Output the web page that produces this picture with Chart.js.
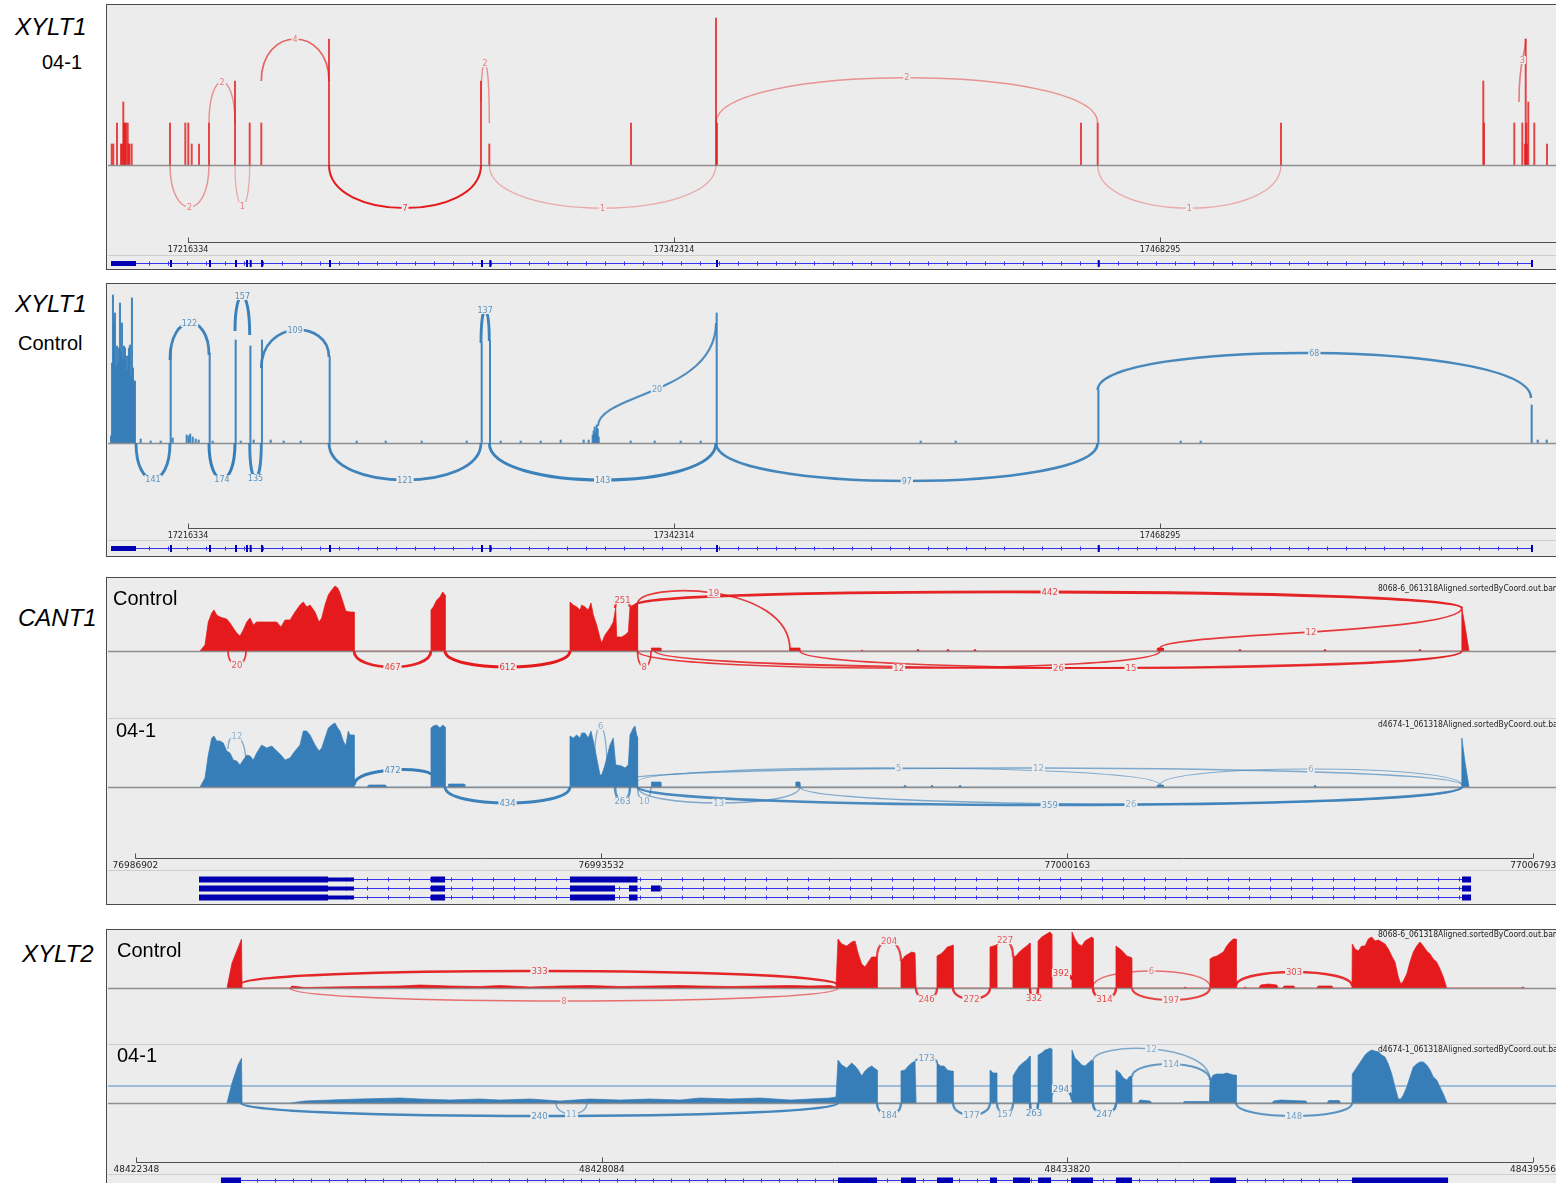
<!DOCTYPE html>
<html><head><meta charset="utf-8">
<script src="https://cdn.jsdelivr.net/npm/chart.js@4.4.1/dist/chart.umd.min.js"></script>
<style>
html,body{margin:0;padding:0;background:#fff;}
body{width:1556px;height:1183px;overflow:hidden;position:relative;font-family:"Liberation Sans",Arial,sans-serif;}
.panel{position:absolute;left:106px;width:1470px;background:rgb(236,236,236);border:1.5px solid #4a4a4a;box-sizing:border-box;}
canvas{position:absolute;left:108px;}
.sep{position:absolute;left:108px;width:1448px;height:1px;background:#cdcdd6;}
.lbl{position:absolute;line-height:1;white-space:nowrap;color:#000;z-index:5;}
.gene{font-style:italic;font-size:24px;}
.samp{font-size:20px;}
.bam{position:absolute;font-family:"DejaVu Sans Condensed","DejaVu Sans",sans-serif;font-size:8.5px;line-height:1;white-space:nowrap;color:#222;z-index:5;}
</style></head><body>

<div class="panel" style="top:4px;height:266px"></div>
<div class="panel" style="top:283px;height:274px"></div>
<div class="panel" style="top:577px;height:328px"></div>
<div class="panel" style="top:929px;height:270px"></div>

<div class="sep" style="top:255px"></div>
<div class="sep" style="top:540px"></div>
<div class="sep" style="top:718px"></div>
<div class="sep" style="top:870px"></div>
<div class="sep" style="top:1044px"></div>
<div class="sep" style="top:1174px"></div>

<canvas id="c1" width="1448" height="262" style="top:6px"></canvas>
<canvas id="c2" width="1448" height="270" style="top:285px"></canvas>
<canvas id="c3a" width="1448" height="139" style="top:579px"></canvas>
<canvas id="c3b" width="1448" height="185" style="top:718px"></canvas>
<canvas id="c4a" width="1448" height="113" style="top:931px"></canvas>
<canvas id="c4b" width="1448" height="141" style="top:1044px"></canvas>

<div class="lbl gene" style="left:15px;top:15px">XYLT1</div>
<div class="lbl samp" style="left:42px;top:52px">04-1</div>
<div class="lbl gene" style="left:15px;top:292px">XYLT1</div>
<div class="lbl samp" style="left:18px;top:333px">Control</div>
<div class="lbl gene" style="left:18px;top:606px">CANT1</div>
<div class="lbl samp" style="left:113px;top:588px">Control</div>
<div class="lbl samp" style="left:116px;top:720px">04-1</div>
<div class="lbl gene" style="left:22px;top:942px">XYLT2</div>
<div class="lbl samp" style="left:117px;top:940px">Control</div>
<div class="lbl samp" style="left:117px;top:1045px">04-1</div>
<div class="bam" style="left:1378px;top:584px">8068-6_061318Aligned.sortedByCoord.out.bam</div>
<div class="bam" style="left:1378px;top:720px">d4674-1_061318Aligned.sortedByCoord.out.bam</div>
<div class="bam" style="left:1378px;top:930px">8068-6_061318Aligned.sortedByCoord.out.bam</div>
<div class="bam" style="left:1378px;top:1045px">d4674-1_061318Aligned.sortedByCoord.out.bam</div>

<script>
// ===================== DATA =====================
// ---- XYLT1 ----
const xylt1Range = [17195598, 17570920];
const xylt1Ticks = [17216334, 17342314, 17468295];
const xylt1GeneSpan = [17196376, 17564699];
const xylt1GeneExons = [[17196376,17202856,'cds'],[17211668,17211800,'e'],[17221777,17221900,'e'],[17228516,17228640,'e'],[17231368,17231480,'e'],[17232327,17232450,'e'],[17235256,17235380,'e'],[17252881,17253000,'e'],[17292280,17292400,'e'],[17294431,17294560,'e'],[17353192,17353320,'e'],[17452128,17452250,'e'],[17564440,17564699,'e']];

// XYLT1, sample 04-1: [position, reads]
const xylt1S041Cov = [[17196557,1],[17196972,1],[17197931,2],[17198968,1],[17199227,1],[17199564,3],[17199745,2],[17200004,2],[17200264,2],[17200704,2],[17200912,1],[17201171,1],[17201741,1],[17211668,2],[17215634,2],[17216412,2],[17217293,1],[17219185,1],[17221777,2],[17228516,4],[17232327,2],[17235333,2],[17252881,6],[17292280,4],[17294431,1],[17331160,2],[17353192,7],[17353450,2],[17447800,2],[17452128,2],[17499640,2],[17552076,4],[17552257,2],[17560111,2],[17562185,2],[17562884,1],[17563066,6],[17563221,2],[17563403,1],[17563740,3],[17565295,2],[17568587,1]];
// junctions: [start, end, reads, startDepth, endDepth, arcPeak]
const xylt1S041Junc = [[17211668,17221777,2,0,0,-2.0],[17221777,17228516,2,2,2,3.95],[17228516,17232327,1,0,0,-1.95],[17235333,17252881,4,4,4,6.0],[17252881,17292280,7,0,0,-2.05],[17292280,17294431,2,3,2,4.85],[17294431,17353192,1,0,0,-2.05],[17353192,17452128,2,2,2,4.15],[17452128,17499640,1,0,0,-2.05],[17561329,17563066,3,3,6,5.0]];

// XYLT1, Control
const xylt1CtrlFirstExonPos = [17196557,17196816,17197075,17197334,17197593,17197852,17198111,17198370,17198629,17198888,17199147,17199406,17199665,17199924,17200183,17200442,17200701,17200960,17201219,17201478,17201737,17201996,17202255,17202514,17202773];
const xylt1CtrlFirstExonDepth = [7,80,148,120,130,77,97,80,95,140,91,120,83,97,95,87,73,87,95,98,67,145,75,62,62];
const xylt1CtrlCov = [[17203892,4],[17206484,2],[17209076,2],[17211668,95],[17212187,5],[17215816,8],[17216334,7],[17216723,9],[17217371,6],[17218148,4],[17218926,3],[17221777,90],[17222555,2],[17228516,103],[17229812,2],[17232327,97],[17233182,3],[17235333,103],[17237588,3],[17240958,2],[17245364,2],[17252881,86],[17259880,2],[17267396,2],[17276728,2],[17288392,2],[17292280,100],[17294431,102],[17297204,2],[17302388,2],[17307572,2],[17312756,3],[17318718,3],[17320014,3],[17321051,8],[17321310,12],[17321569,16],[17321828,10],[17322088,18],[17322347,14],[17322606,6],[17330900,2],[17337121,2],[17343860,2],[17349044,2],[17353192,130],[17406068,2],[17415140,2],[17452128,53],[17473460,2],[17478644,2],[17564440,38],[17565995,3],[17568328,3]];
const xylt1CtrlJunc = [[17202856,17211668,141,0,0,-36],[17211668,17221777,122,83,88,120],[17221777,17228516,174,0,0,-36],[17228516,17232327,157,112,108,147],[17232327,17235333,135,0,0,-35],[17235333,17252881,109,75,86,113],[17252881,17292280,121,0,0,-37],[17292280,17294431,137,100,102,133],[17294431,17353192,143,0,0,-37],[17322606,17353192,20,17,120,54],[17353192,17452128,97,0,0,-38],[17452128,17564440,68,53,45,90]];

// ---- CANT1 ----
const cant1Range = [76986512, 77007117];
const cant1Ticks = [76986902, 76993532, 77000163, 77006793];
const cant1TxSpan = [76987807, 77005908];
const cant1TxA = [[76987807,76989643,'cds'],[76989643,76990013,'utr'],[76991108,76991308,'cds'],[76993086,76994047,'cds'],[77005780,77005908,'cds']];
const cant1TxB = [[76987807,76989643,'cds'],[76989643,76990013,'utr'],[76991108,76991308,'cds'],[76993086,76993727,'cds'],[76993926,76994047,'cds'],[76994239,76994375,'cds'],[77005780,77005908,'cds']];
const cant1TxC = [[76987807,76989643,'cds'],[76989643,76990013,'utr'],[76991108,76991308,'cds'],[76993086,76993727,'cds'],[76993926,76994047,'cds'],[77005780,77005908,'cds']];

const cant1CtrlCov = [[76987821,0],[76987892,60],[76987939,290],[76987988,380],[76988020,410],[76988059,360],[76988106,340],[76988153,330],[76988201,320],[76988248,280],[76988295,230],[76988343,180],[76988390,150],[76988437,210],[76988486,290],[76988533,330],[76988580,260],[76988628,290],[76988699,290],[76988770,290],[76988842,290],[76988913,290],[76988974,240],[76989031,310],[76989102,310],[76989173,390],[76989244,460],[76989291,490],[76989340,440],[76989387,460],[76989458,390],[76989515,290],[76989553,330],[76989600,460],[76989647,560],[76989695,610],[76989742,650],[76989781,630],[76989813,580],[76989860,480],[76989895,400],[76989956,390],[76990003,390],[76990013,390],[76990014,0],
 [76991107,0],[76991108,410],[76991141,440],[76991190,510],[76991236,540],[76991275,590],[76991308,560],[76991309,0],
 [76993085,0],[76993086,490],[76993133,460],[76993182,440],[76993229,410],[76993253,460],[76993300,440],[76993347,410],[76993385,480],[76993418,360],[76993466,260],[76993513,130],[76993537,80],[76993584,160],[76993655,230],[76993702,290],[76993737,430],[76993751,140],[76993822,140],[76993869,160],[76993916,190],[76993940,440],[76993987,460],[76994035,480],[76994047,470],[76994048,0],
 [76994239,0],[76994245,30],[76994375,30],[76994380,0],[76996210,0],[76996217,30],[76996359,30],[76996365,0],[76997220,0],[76997242,10],[76997265,0],[76998015,0],[76998039,20],[76998060,0],[76998440,0],[76998465,20],[76998490,0],[76998825,0],[76998849,20],[76998870,0],[77001439,0],[77001445,30],[77001525,30],[77001530,0],[77002600,0],[77002620,20],[77002640,0],[77003810,0],[77003830,20],[77003850,0],[77005160,0],[77005182,20],[77005200,0],
 [77005770,0],[77005777,430],[77005822,250],[77005879,0]];
const cant1CtrlJunc = [[76988220,76988476,20,0,0,-140],[76990013,76991108,467,0,0,-160],[76991308,76993086,612,0,0,-160],[76993727,76993940,251,430,440,510],[76994047,76994239,8,0,0,-160],[76994047,76996217,19,470,10,580],[76994047,77005777,442,470,430,590],[77001482,77005777,12,30,430,190],[76994047,77001482,12,0,0,-170],[76994296,77005777,26,0,0,-170],[76996359,77005777,15,0,0,-170]];

const cant1S041Cov = [[76987821,0],[76987892,90],[76987939,320],[76987988,490],[76988020,510],[76988059,460],[76988106,460],[76988153,440],[76988201,360],[76988248,340],[76988295,270],[76988343,260],[76988390,220],[76988437,270],[76988486,320],[76988533,310],[76988580,270],[76988628,340],[76988699,420],[76988770,390],[76988842,410],[76988913,360],[76988974,320],[76989031,270],[76989102,290],[76989173,360],[76989244,420],[76989291,560],[76989340,560],[76989387,520],[76989458,420],[76989515,360],[76989553,390],[76989600,490],[76989647,590],[76989695,620],[76989742,640],[76989781,590],[76989813,560],[76989860,460],[76989895,410],[76989932,560],[76989956,520],[76990003,520],[76990013,520],[76990014,0],
 [76990200,0],[76990220,20],[76990460,20],[76990480,0],
 [76991107,0],[76991108,590],[76991141,610],[76991190,620],[76991236,590],[76991275,620],[76991308,600],[76991309,0],
 [76991350,0],[76991360,30],[76991580,30],[76991590,0],
 [76993085,0],[76993086,510],[76993133,490],[76993182,520],[76993229,490],[76993253,540],[76993300,540],[76993347,490],[76993385,560],[76993418,460],[76993466,290],[76993513,120],[76993537,120],[76993584,220],[76993655,420],[76993702,490],[76993737,220],[76993751,220],[76993822,210],[76993869,190],[76993916,220],[76993940,520],[76993987,590],[76994011,610],[76994035,520],[76994047,500],[76994048,0],
 [76994239,0],[76994245,50],[76994375,50],[76994380,0],[76996290,0],[76996300,50],[76996359,50],[76996365,0],[76997830,0],[76997853,20],[76997875,0],[76998215,0],[76998238,20],[76998260,0],[76998615,0],[76998636,20],[76998660,0],[77001439,0],[77001445,20],[77001525,20],[77001530,0],[77003665,0],[77003688,20],[77003710,0],
 [77005770,0],[77005777,490],[77005822,250],[77005879,0]];
const cant1S041Junc = [[76988220,76988476,12,380,220,510],[76990013,76991108,472,20,120,170],[76991308,76993086,434,0,0,-160],[76993436,76993613,6,250,150,610],[76993727,76993940,263,0,0,-140],[76994047,76994239,10,0,0,-140],[76994047,76996359,13,0,0,-160],[76994047,77001482,5,50,20,190],[76993727,77005777,12,50,20,190],[77001482,77005777,6,20,20,180],[76994047,77005777,359,0,0,-180],[76996359,77005777,26,0,0,-170]];

// ---- XYLT2 ----
const xylt2Range = [48421998, 48439840];
const xylt2Ticks = [48422348, 48428084, 48433820, 48439556];
const xylt2GeneSpan = [48423390, 48438510];
const xylt2GeneExons = [[48423390,48423637,'cds'],[48430993,48431474,'cds'],[48431769,48431954,'cds'],[48432213,48432410,'cds'],[48432866,48432952,'cds'],[48433150,48433359,'cds'],[48433458,48433618,'cds'],[48433864,48434135,'cds'],[48434418,48434615,'cds'],[48435577,48435898,'cds'],[48437327,48438510,'cds']];

const xylt2CtrlCov = [[48423464,0],[48423526,250],[48423600,400],[48423643,490],[48423650,0],
 [48424240,0],[48424265,20],[48424425,5],[48424734,10],[48425103,15],[48425596,20],[48425843,30],[48426212,20],[48426582,15],[48426828,25],[48427198,10],[48427568,20],[48427937,25],[48428307,15],[48428677,20],[48429046,25],[48429293,20],[48429662,15],[48430032,20],[48430402,25],[48430648,20],[48430895,25],[48430968,10],
 [48430993,490],[48431039,440],[48431100,420],[48431162,460],[48431203,470],[48431243,340],[48431285,240],[48431326,210],[48431366,260],[48431408,310],[48431474,310],[48431475,0],
 [48431768,0],[48431769,270],[48431819,320],[48431859,340],[48431901,360],[48431942,350],[48431954,350],[48431955,0],
 [48432212,0],[48432213,320],[48432258,340],[48432299,370],[48432340,410],[48432382,420],[48432410,430],[48432411,0],
 [48432865,0],[48432866,410],[48432907,420],[48432952,430],[48432953,0],
 [48433149,0],[48433150,310],[48433186,320],[48433227,360],[48433269,390],[48433318,420],[48433359,450],[48433360,0],
 [48433457,0],[48433458,470],[48433503,510],[48433544,530],[48433584,550],[48433605,560],[48433626,540],[48433627,0],
 [48433875,0],[48433876,560],[48433913,490],[48433954,440],[48433996,420],[48434037,470],[48434077,490],[48434119,510],[48434135,500],[48434136,0],
 [48434417,0],[48434418,420],[48434468,390],[48434509,360],[48434550,320],[48434591,310],[48434615,300],[48434616,0],
 [48435250,0],[48435269,10],[48435290,0],
 [48435576,0],[48435577,290],[48435618,310],[48435660,320],[48435700,340],[48435741,360],[48435783,420],[48435823,460],[48435864,490],[48435898,490],[48435899,0],
 [48435990,0],[48436008,10],[48436030,0],[48436180,0],[48436200,30],[48436300,40],[48436400,30],[48436415,0],[48436470,0],[48436490,20],[48436610,20],[48436625,0],[48436890,0],[48436910,20],[48437080,20],[48437093,0],
 [48437326,0],[48437330,440],[48437364,390],[48437404,370],[48437446,420],[48437487,420],[48437527,490],[48437569,510],[48437610,470],[48437651,480],[48437693,460],[48437733,440],[48437774,390],[48437816,320],[48437856,260],[48437897,110],[48437927,40],[48437959,70],[48438001,140],[48438041,260],[48438082,360],[48438124,420],[48438164,460],[48438205,420],[48438247,370],[48438288,340],[48438328,290],[48438370,260],[48438411,190],[48438452,110],[48438493,0],
 [48439410,0],[48439433,10],[48439455,0]];
const xylt2CtrlJunc = [[48423637,48430993,333,40,30,170],[48424241,48430993,8,0,0,-130],[48431474,48431769,204,310,270,470],[48431954,48432213,246,0,0,-110],[48432410,48432866,272,0,0,-110],[48432952,48433150,227,430,310,480],[48433359,48433458,332,0,0,-100],[48433605,48433876,392,90,80,150],[48434135,48434418,314,0,0,-110],[48434135,48435577,6,10,10,170],[48434615,48435577,197,0,0,-120],[48435898,48437327,303,20,20,160]];

const xylt2S041Cov = [[48423464,0],[48423526,200],[48423600,380],[48423643,447],[48423650,0],
 [48424240,0],[48424425,20],[48424734,30],[48425103,40],[48425596,50],[48425843,40],[48426212,30],[48426582,40],[48426828,30],[48427198,40],[48427568,20],[48427937,40],[48428307,30],[48428677,40],[48429046,30],[48429293,50],[48429662,40],[48430032,50],[48430402,30],[48430648,40],[48430895,50],[48430968,60],
 [48430993,430],[48431039,380],[48431100,350],[48431162,400],[48431203,370],[48431243,330],[48431285,270],[48431326,320],[48431366,350],[48431408,370],[48431474,330],[48431475,0],
 [48431768,0],[48431769,320],[48431819,330],[48431859,370],[48431901,400],[48431942,420],[48431954,420],[48431955,0],
 [48432212,0],[48432213,400],[48432258,370],[48432299,370],[48432340,330],[48432382,320],[48432410,320],[48432411,0],
 [48432865,0],[48432866,330],[48432907,300],[48432952,300],[48432953,0],
 [48433149,0],[48433150,270],[48433186,320],[48433227,370],[48433269,400],[48433318,430],[48433359,470],[48433360,0],
 [48433457,0],[48433458,480],[48433503,500],[48433544,530],[48433584,540],[48433605,550],[48433626,540],[48433627,0],
 [48433875,0],[48433876,530],[48433913,450],[48433954,420],[48433996,380],[48434037,370],[48434077,400],[48434119,430],[48434135,420],[48434136,0],
 [48434417,0],[48434418,330],[48434468,300],[48434509,250],[48434550,230],[48434591,270],[48434615,260],[48434616,0],
 [48434690,0],[48434714,30],[48434838,20],[48434860,0],[48435240,0],[48435260,15],[48435560,15],[48435570,0],
 [48435576,0],[48435577,230],[48435618,280],[48435660,290],[48435700,290],[48435741,290],[48435783,300],[48435823,290],[48435864,280],[48435898,280],[48435899,0],
 [48436340,0],[48436360,20],[48436450,30],[48436600,25],[48436760,20],[48436775,0],[48437020,0],[48437040,25],[48437170,25],[48437185,0],
 [48437326,0],[48437330,290],[48437364,330],[48437404,380],[48437446,430],[48437487,480],[48437527,510],[48437569,530],[48437610,520],[48437651,510],[48437693,480],[48437733,460],[48437774,390],[48437816,290],[48437856,160],[48437897,40],[48437927,40],[48437959,80],[48438001,160],[48438041,260],[48438082,360],[48438124,390],[48438164,410],[48438205,410],[48438247,380],[48438288,330],[48438328,260],[48438370,230],[48438411,160],[48438452,90],[48438493,10],[48438500,0]];
const xylt2S041Level = 170;
const xylt2S041Junc = [[48423637,48430993,240,0,0,-130],[48427518,48427900,11,0,0,-110],[48431474,48431769,184,0,0,-120],[48431954,48432213,173,420,400,450],[48432410,48432866,177,0,0,-120],[48432952,48433150,157,0,0,-110],[48433359,48433458,263,0,0,-100],[48433605,48433876,294,30,30,140],[48434135,48434418,247,0,0,-110],[48434135,48435577,12,420,230,540],[48434615,48435577,114,260,230,390],[48435898,48437327,148,0,0,-130]];

// ===================== DRAWING =====================
const RED = [228,26,28], BLUE = [55,126,184];
const BG = 'rgb(236,236,236)';
const rgba = (c,a) => `rgba(${c[0]},${c[1]},${c[2]},${a})`;
const pts = arr => arr.map(p => ({x:p[0], y:p[1]}));

function sashimiPlugin(cfg){
  return {
    id: 'sashimi_' + cfg.id,
    afterDatasetsDraw(chart){
      const {ctx, chartArea:a, scales} = chart;
      const xs = scales.x, ys = scales.y;
      ctx.save();
      const y0 = Math.round(ys.getPixelForValue(0)) + 0.5;
      ctx.strokeStyle = '#8e8e8e'; ctx.lineWidth = 1.5;
      ctx.beginPath(); ctx.moveTo(a.left, y0); ctx.lineTo(a.right, y0); ctx.stroke();

      const maxC = Math.max(...cfg.junctions.map(j => j[2]));
      const st = cfg.arcStyle;
      const geo = cfg.junctions.map(j => {
        const x1 = xs.getPixelForValue(j[0]), x2 = xs.getPixelForValue(j[1]);
        const y1 = ys.getPixelForValue(j[3]), y2 = ys.getPixelForValue(j[4]);
        const yp = ys.getPixelForValue(j[5]);
        const c = (yp - (y1 + y2) / 8) / 0.75;
        const r = j[2] / maxC;
        return {x1, x2, y1, y2, yp, c, n: j[2],
          w: st.wMin + (st.wMax - st.wMin) * Math.sqrt(r),
          al: st.aMin + (1 - st.aMin) * Math.pow(r, st.aPow || 1)};
      });
      geo.forEach(g => {
        ctx.strokeStyle = rgba(cfg.color, g.al); ctx.lineWidth = g.w;
        ctx.beginPath(); ctx.moveTo(g.x1, g.y1);
        ctx.bezierCurveTo(g.x1, g.c, g.x2, g.c, g.x2, g.y2); ctx.stroke();
      });
      ctx.font = cfg.labelSize + 'px "DejaVu Sans"';
      ctx.textAlign = 'center'; ctx.textBaseline = 'middle';
      geo.forEach(g => {
        const t = String(g.n), w = ctx.measureText(t).width + 2, mx = (g.x1 + g.x2) / 2;
        ctx.fillStyle = BG; ctx.fillRect(mx - w / 2, g.yp - cfg.labelSize / 2, w, cfg.labelSize);
        ctx.fillStyle = rgba(cfg.color, Math.max(0.55, g.al * 0.85));
        ctx.fillText(t, mx, g.yp + 0.5);
      });

      if (cfg.axis) {
        const ax = cfg.axis, yb = Math.round(a.bottom) + 0.5;
        const px = ax.ticks.map(v => xs.getPixelForValue(v));
        ctx.strokeStyle = '#505050'; ctx.lineWidth = 1;
        ctx.beginPath(); ctx.moveTo(px[0], yb);
        ctx.lineTo(ax.toEnd ? a.right : px[px.length - 1], yb);
        px.forEach(p => { const q = Math.round(p) + 0.5; ctx.moveTo(q, yb); ctx.lineTo(q, yb - 5); });
        ctx.stroke();
      }
      if (cfg.gene) {
        const gn = cfg.gene;
        gn.rows.forEach(row => {
          const gy = Math.round(a.bottom + row.dy) + 0.5;
          const s = xs.getPixelForValue(row.span[0]), e = xs.getPixelForValue(row.span[1]);
          ctx.strokeStyle = '#3434ee'; ctx.lineWidth = 1;
          ctx.beginPath(); ctx.moveTo(s, gy); ctx.lineTo(e, gy);
          for (let p = s + gn.step; p < e - 2; p += gn.step) {
            const q = Math.round(p) + 0.5; ctx.moveTo(q, gy - 2); ctx.lineTo(q, gy + 2);
          }
          ctx.stroke();
          ctx.fillStyle = '#0000b2';
          row.exons.forEach(ex => {
            const x1 = xs.getPixelForValue(ex[0]), x2 = xs.getPixelForValue(ex[1]);
            const h = ex[2] === 'cds' ? gn.cdsH : (ex[2] === 'utr' ? gn.utrH : gn.exH);
            ctx.fillRect(x1, gy - h / 2, Math.max(2, x2 - x1), h);
          });
        });
      }
      ctx.restore();
    }
  };
}

function track(cfg){
  const ds = [];
  if (cfg.profile) ds.push({type:'line', data:pts(cfg.profile), borderColor:rgba(cfg.color,1), backgroundColor:rgba(cfg.color,1), borderWidth:0.7, pointRadius:0, tension:0, fill:'origin'});
  if (cfg.bars) cfg.bars.forEach(b => ds.push({type:'bar', data:pts(b), backgroundColor:rgba(cfg.color, cfg.barAlpha || 0.9), barThickness:cfg.barW || 1.3, borderWidth:0, categoryPercentage:1, barPercentage:1}));
  if (cfg.level != null) ds.push({type:'line', data:[{x:cfg.range[0], y:cfg.level}, {x:cfg.range[1], y:cfg.level}], borderColor:rgba(cfg.color,0.85), borderWidth:1, pointRadius:0, fill:false});
  const ax = cfg.axis;
  new Chart(document.getElementById(cfg.id), {
    type:'line',
    data:{datasets:ds},
    options:{
      responsive:false, animation:false, events:[],
      layout:{padding:0},
      plugins:{legend:{display:false}, tooltip:{enabled:false}},
      scales:{
        x:{type:'linear', min:cfg.range[0], max:cfg.range[1], offset:false, display:!!ax,
          grid:{display:false, drawTicks:false, offset:false}, border:{display:false},
          ticks:{autoSkip:false, maxRotation:0, minRotation:0, padding: ax ? ax.pad : 0, color:'#1e1e1e',
            font:{family:'DejaVu Sans', size: ax ? ax.size : 8}, callback: v => String(v)},
          afterBuildTicks: s => { if (ax) s.ticks = ax.ticks.map(v => ({value:v})); },
          afterFit: s => { s.paddingLeft = 0; s.paddingRight = 0; s.paddingTop = 0; s.paddingBottom = 0; if (ax) s.height = ax.h; }
        },
        y:{type:'linear', min:cfg.yRange[0], max:cfg.yRange[1], display:false}
      }
    },
    plugins:[sashimiPlugin(cfg)]
  });
}

// XYLT1 04-1
track({id:'c1', color:RED, range:xylt1Range, yRange:[-3.667, 7.571],
  bars:[xylt1S041Cov], barW:1.3, barAlpha:0.8,
  junctions:xylt1S041Junc, arcStyle:{wMin:0.9, wMax:2.0, aMin:0.2, aPow:1}, labelSize:8,
  axis:{ticks:xylt1Ticks, toEnd:true, h:26, pad:3, size:8},
  gene:{step:19, cdsH:5, utrH:4, exH:7, rows:[{dy:21, span:xylt1GeneSpan, exons:xylt1GeneExons}]}});

// XYLT1 Control
track({id:'c2', color:BLUE, range:xylt1Range, yRange:[-85, 158],
  bars:[xylt1CtrlFirstExonPos.map((p,i) => [p, xylt1CtrlFirstExonDepth[i]]), xylt1CtrlCov], barW:1.4, barAlpha:0.92,
  junctions:xylt1CtrlJunc, arcStyle:{wMin:1.7, wMax:3.0, aMin:0.85}, labelSize:8,
  axis:{ticks:xylt1Ticks, toEnd:true, h:27, pad:3, size:8},
  gene:{step:19, cdsH:5, utrH:4, exH:7, rows:[{dy:20, span:xylt1GeneSpan, exons:xylt1GeneExons}]}});

// CANT1 Control
track({id:'c3a', color:RED, range:cant1Range, yRange:[-670, 720],
  profile:cant1CtrlCov, junctions:cant1CtrlJunc, arcStyle:{wMin:1.5, wMax:3.0, aMin:0.85}, labelSize:8.5});

// CANT1 04-1
track({id:'c3b', color:BLUE, range:cant1Range, yRange:[-710, 690],
  profile:cant1S041Cov, junctions:cant1S041Junc, arcStyle:{wMin:1.0, wMax:3.0, aMin:0.6}, labelSize:8.5,
  axis:{ticks:cant1Ticks, toEnd:false, h:45, pad:2, size:9},
  gene:{step:21, cdsH:6, utrH:4, exH:6, rows:[{dy:21, span:cant1TxSpan, exons:cant1TxA},{dy:30, span:cant1TxSpan, exons:cant1TxB},{dy:39, span:cant1TxSpan, exons:cant1TxC}]}});

// XYLT2 Control
track({id:'c4a', color:RED, range:xylt2Range, yRange:[-560, 570],
  profile:xylt2CtrlCov, junctions:xylt2CtrlJunc, arcStyle:{wMin:1.2, wMax:2.6, aMin:0.6}, labelSize:8.5});

// XYLT2 04-1
track({id:'c4b', color:BLUE, range:xylt2Range, yRange:[-590, 590],
  profile:xylt2S041Cov, level:xylt2S041Level, junctions:xylt2S041Junc, arcStyle:{wMin:1.2, wMax:2.6, aMin:0.6}, labelSize:8.5,
  axis:{ticks:xylt2Ticks, toEnd:false, h:23, pad:2, size:9},
  gene:{step:18, cdsH:6, utrH:4, exH:6, rows:[{dy:18, span:xylt2GeneSpan, exons:xylt2GeneExons}]}});
</script>
</body></html>
